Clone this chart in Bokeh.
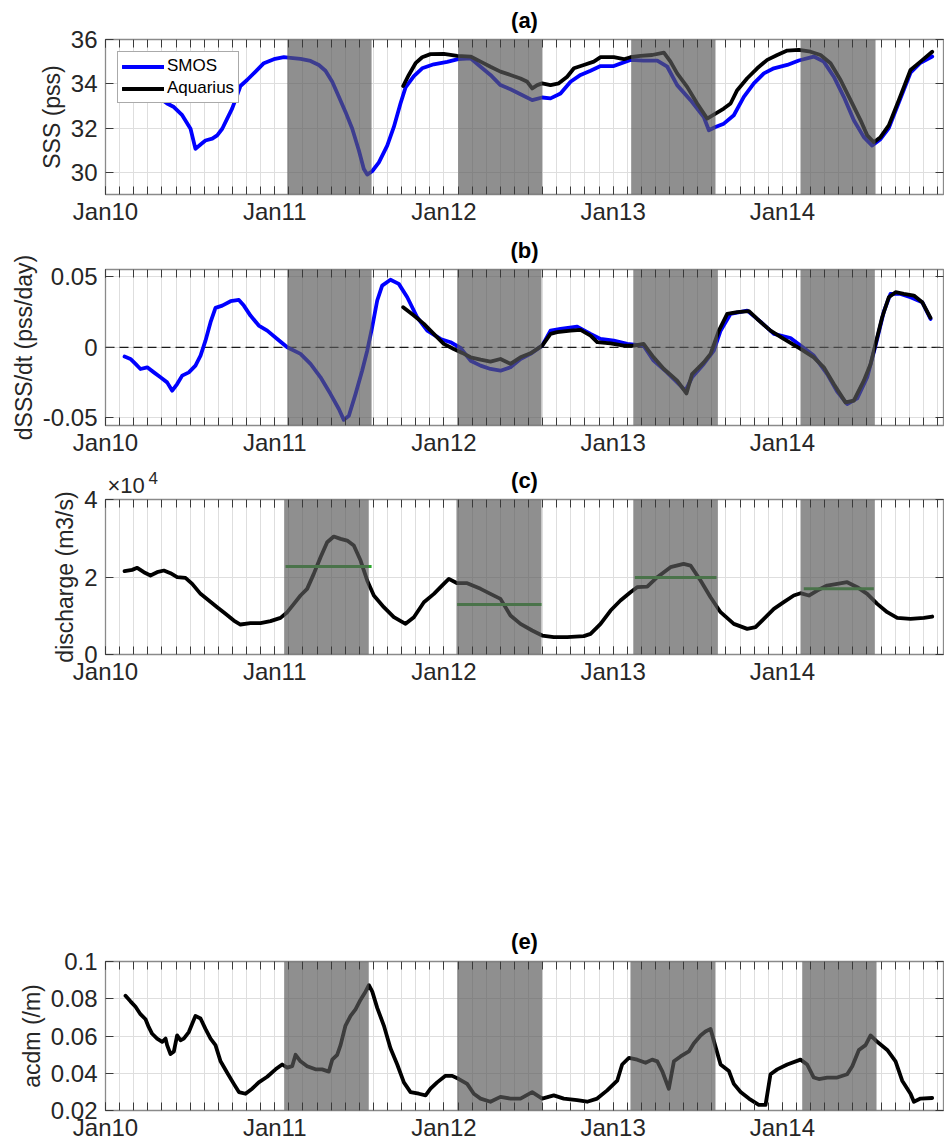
from bokeh.plotting import figure
from bokeh.models import (Range1d, FixedTicker, LinearAxis, Label, Legend, LegendItem, Span,
                          CustomLabelingPolicy)
from bokeh.layouts import column
from bokeh.embed import file_html
from bokeh.resources import INLINE

# ---------------- data (x = months since 1 Jan 2010) ----------------
tick_labels = ["Jan10", "Jan11", "Jan12", "Jan13", "Jan14"]
jan_ticks = [0, 12, 24, 36, 48]
month_ticks = list(range(0, 60))
x_end = 59.43

# shaded periods per panel (months)
shade_a_start = [12.89, 25.01, 37.28, 49.29]
shade_a_end = [18.87, 30.97, 43.26, 54.61]
shade_b_start = [12.89, 24.94, 37.43, 49.29]
shade_b_end = [18.87, 30.92, 43.43, 54.56]
shade_c_start = [12.67, 24.89, 37.43, 49.29]
shade_c_end = [18.67, 30.92, 43.43, 54.56]
shade_e_start = [12.67, 24.94, 37.23, 49.41]
shade_e_end = [18.67, 30.97, 43.26, 54.68]

# (a) SSS
smos_a_m = [1.35, 2.0, 2.7, 3.43, 3.90, 4.37, 4.85, 5.44, 6.03, 6.38,
            6.74, 7.09, 7.57, 7.92, 8.28, 8.63, 8.98, 9.34, 9.57, 10.04,
            10.64, 11.23, 11.94, 12.65, 13.12, 13.83, 14.54, 15.13, 15.6, 16.08,
            16.55, 17.02, 17.5, 17.97, 18.32, 18.56, 18.91, 19.39, 19.98, 20.45,
            20.92, 21.28, 21.87, 22.46, 23.28, 24.23, 25.01, 25.89, 26.6, 27.3,
            28.01, 28.72, 29.43, 30.26, 30.97, 31.56, 32.27, 32.98, 33.69, 34.4,
            35.11, 36.05, 37.23, 38.16, 39.13, 39.84, 40.54, 41.49, 42.43, 42.79,
            43.26, 43.85, 44.56, 45.27, 45.98, 46.69, 47.4, 48.35, 49.17, 50.23,
            50.94, 51.65, 52.36, 53.07, 53.78, 54.37, 54.96, 55.55, 56.26, 57.09,
            57.8, 58.63]
smos_a_v = [34.6, 34.4, 34.1, 33.79, 33.34, 33.11, 32.95, 32.58, 31.97, 31.06,
            31.26, 31.44, 31.52, 31.67, 31.97, 32.43, 32.88, 33.49, 33.9, 34.17,
            34.55, 34.93, 35.11, 35.2, 35.17, 35.12, 35.03, 34.85, 34.59, 34.09,
            33.41, 32.73, 31.97, 30.99, 30.15, 29.9, 30.05, 30.45, 31.21, 32.05,
            33.11, 33.84, 34.35, 34.7, 34.88, 34.99, 35.11, 35.15, 34.77, 34.4,
            33.94, 33.75, 33.53, 33.26, 33.38, 33.34, 33.56, 34.09, 34.4, 34.59,
            34.8, 34.8, 35.08, 35.05, 35.05, 34.77, 33.94, 33.26, 32.5, 31.9,
            32.05, 32.2, 32.58, 33.41, 34.02, 34.47, 34.7, 34.85, 35.05, 35.23,
            35.0, 34.32, 33.41, 32.35, 31.59, 31.21, 31.5, 32.0, 33.15, 34.5,
            34.95, 35.23]
aq_a_m = [21.11, 21.51, 21.99, 22.46, 23.05, 23.99, 24.94,
          25.89, 26.6, 27.3, 28.01, 28.72, 29.43, 29.91, 30.26, 30.62, 30.97,
          31.56, 32.15, 32.74, 33.22, 33.92, 34.63, 35.11, 36.05, 36.76, 37.23,
          37.94, 38.77, 39.6, 40.07, 40.54, 41.25, 41.96, 42.67, 43.26,
          43.85, 44.33, 44.8, 45.51, 46.22, 46.93, 47.64, 48.35, 49.17,
          50.0, 50.71, 51.42, 52.13, 52.84, 53.55, 54.02, 54.49,
          54.96, 55.55, 56.26, 57.09, 57.8, 58.63]
aq_a_v = [33.9, 34.4, 34.93, 35.2, 35.34, 35.35, 35.26,
          35.23, 35.0, 34.77, 34.55, 34.4, 34.24, 34.09, 33.79, 33.94, 34.02,
          33.94, 34.02, 34.32, 34.7, 34.85, 35.0, 35.2, 35.2, 35.11, 35.2,
          35.26, 35.3, 35.41, 35.0, 34.47, 33.86, 33.11, 32.43, 32.65,
          32.88, 33.11, 33.71, 34.25, 34.7, 35.08, 35.3, 35.5, 35.53,
          35.45, 35.3, 34.93, 34.17, 33.26, 32.35, 31.67, 31.36,
          31.59, 32.12, 33.26, 34.62, 35.0, 35.45]

# (b) dSSS/dt
smos_b_m = [1.35, 1.77, 2.13, 2.48, 2.96, 3.43, 3.9, 4.37, 4.73, 5.08,
            5.44, 5.91, 6.38, 6.74, 7.09, 7.45, 7.8, 8.28, 8.87, 9.46,
            9.81, 10.28, 10.87, 11.47, 12.18, 12.89, 13.83, 14.54, 15.25, 15.96,
            16.55, 16.9, 17.26, 17.73, 18.2, 18.56, 18.91, 19.27, 19.62, 20.21,
            20.8, 21.4, 22.1, 22.82, 23.76, 24.47, 25.18, 25.89, 26.6, 27.3,
            28.01, 28.72, 29.43, 30.14, 30.97, 31.56, 32.27, 33.45, 34.4, 35.11,
            36.05, 37.0, 38.16, 38.87, 39.82, 40.54, 41.13, 41.6, 42.43, 43.14,
            43.62, 44.33, 45.51, 46.45, 47.4, 48.58, 49.29, 50.23, 51.18, 51.89,
            52.6, 53.31, 54.02, 54.61, 55.2, 55.67, 56.38, 57.09, 57.92, 58.51]
smos_b_v = [-0.0066, -0.0083, -0.0118, -0.0154, -0.0142, -0.0178, -0.0213, -0.0249, -0.0308, -0.0261,
            -0.0201, -0.0178, -0.013, -0.0059, 0.0047, 0.0178, 0.028, 0.0296, 0.0327, 0.0336,
            0.0296, 0.0225, 0.0154, 0.0118, 0.0059, 0.0, -0.0047, -0.0118, -0.0213, -0.0332,
            -0.0438, -0.0515, -0.0486, -0.0332, -0.0166, -0.0024, 0.0142, 0.0332, 0.0438, 0.0479,
            0.045, 0.0355, 0.0213, 0.0118, 0.0059, 0.0036, -0.0005, -0.0095, -0.013, -0.0154,
            -0.0166, -0.0142, -0.0083, -0.0047, 0.0012, 0.0118, 0.013, 0.0147, 0.0095, 0.0059,
            0.0047, 0.0024, 0.0012, -0.0095, -0.0178, -0.0249, -0.0308, -0.0213, -0.0118, -0.0024,
            0.0118, 0.0237, 0.026, 0.0182, 0.0095, 0.0066, 0.0012, -0.0059, -0.019, -0.0315,
            -0.0403, -0.0363, -0.0213, 0.0012, 0.0254, 0.0379, 0.0379, 0.0355, 0.032, 0.0201]
aq_b_m = [21.11, 21.87, 22.58, 23.28, 23.99, 24.7, 25.3, 25.89, 26.6, 27.3,
          28.01, 28.72, 29.43, 30.14, 30.97, 31.56, 32.03, 32.98, 33.69, 34.4,
          34.87, 35.82, 36.76, 37.47, 38.16, 38.87, 39.6, 40.54, 41.2, 41.6,
          42.43, 42.91, 43.5, 44.09, 44.8, 45.63, 46.22, 47.16, 48.1, 49.29,
          50.23, 50.94, 51.65, 52.48, 53.07, 53.78, 54.26, 54.61, 55.08, 55.55,
          56.03, 56.62, 57.33, 57.92, 58.51]
aq_b_v = [0.0284, 0.0225, 0.0166, 0.0095, 0.0024, -0.0012, -0.004, -0.0071, -0.0088, -0.0102,
          -0.0083, -0.0118, -0.0071, -0.0043, 0.0012, 0.0095, 0.0107, 0.0118, 0.0123, 0.0083,
          0.0036, 0.0028, 0.0012, 0.0012, 0.0024, -0.0071, -0.0154, -0.0237, -0.0327, -0.019,
          -0.0107, -0.0047, 0.0118, 0.0237, 0.0249, 0.0256, 0.0201, 0.0118, 0.0059, -0.0012,
          -0.0071, -0.0142, -0.0261, -0.0391, -0.0379, -0.0237, -0.0118, 0.0024, 0.0213, 0.0355,
          0.0391, 0.0379, 0.0367, 0.032, 0.0209]

# (c) discharge
dis_m = [1.35, 1.89, 2.25, 2.72, 3.19, 3.66, 4.14, 4.61, 5.08, 5.67,
         6.15, 6.74, 7.33, 7.92, 8.51, 9.1, 9.57, 10.28, 10.99, 11.7,
         12.41, 12.89, 13.36, 13.83, 14.3, 14.77, 15.25, 15.72, 16.19, 16.67,
         17.14, 17.61, 18.09, 18.56, 19.03, 19.74, 20.45, 21.28, 21.87, 22.58,
         23.29, 23.99, 24.35, 24.94, 25.65, 26.6, 27.3, 28.01, 28.72, 29.43,
         30.26, 30.97, 31.79, 32.74, 33.92, 34.4, 35.11, 35.82, 36.52, 37.23,
         37.7, 38.42, 39.13, 40.07, 41.0, 41.49, 42.2, 42.91, 43.62, 44.56,
         45.51, 46.1, 46.69, 47.4, 48.1, 48.81, 49.29, 49.88, 50.47, 51.18,
         51.89, 52.6, 53.31, 54.02, 54.73, 55.44, 56.15, 57.09, 58.04, 58.63]
dis_v = [21500, 21840, 22360, 21240, 20380, 21240, 21670, 20980, 19950, 19780,
         18230, 15650, 13930, 12210, 10490, 8770, 7740, 8080, 8080, 8600,
         9460, 10920, 13070, 15220, 16940, 20810, 25110, 28980, 30440, 29840,
         29410, 28120, 24250, 19090, 15220, 12210, 9630, 7910, 9630, 13500,
         15650, 18230, 19520, 18400, 18400, 16940, 15650, 14360, 10060, 7910,
         6190, 4900, 4470, 4470, 4730, 5330, 7910, 11350, 13930, 16080,
         17370, 17540, 19950, 22530, 23390, 22960, 19090, 14790, 10920, 7910,
         6620, 7050, 9200, 11780, 13500, 15220, 15820, 15220, 16510, 17800,
         18230, 18660, 17370, 15650, 13070, 10920, 9460, 9200, 9460, 9800]
mean_start = [12.77, 24.94, 37.54, 49.52]
mean_end = [18.87, 30.92, 43.33, 54.49]
mean_val = [22700, 12900, 19900, 17000]

# (e) acdm
acdm_m = [1.42, 1.77, 2.13, 2.48, 2.84, 3.07, 3.31, 3.66, 4.02, 4.26,
          4.37, 4.61, 4.85, 5.08, 5.32, 5.55, 5.91, 6.38, 6.74, 7.09,
          7.45, 7.8, 8.16, 8.63, 9.1, 9.46, 9.93, 10.4, 10.87, 11.47,
          12.06, 12.53, 12.89, 13.24, 13.48, 13.83, 14.3, 14.89, 15.36, 15.84,
          16.08, 16.43, 16.67, 17.02, 17.38, 17.73, 18.09, 18.44, 18.68, 18.92,
          19.27, 19.74, 20.21, 20.69, 21.16, 21.63, 22.22, 22.7, 23.05, 23.52,
          24.11, 24.59, 25.06, 25.65, 26.12, 26.6, 27.3, 28.01, 28.72, 29.43,
          30.26, 30.97, 31.79, 32.5, 33.45, 34.16, 34.87, 35.58, 36.29, 36.64,
          37.12, 37.71, 38.3, 38.77, 39.13, 39.48, 39.95, 40.31, 40.78, 41.37,
          41.72, 42.2, 42.55, 42.91, 43.26, 43.62, 44.21, 44.56, 45.04, 45.63,
          46.33, 46.81, 47.16, 47.64, 48.35, 49.29, 49.76, 50.23, 50.59, 51.18,
          51.89, 52.6, 52.96, 53.43, 53.9, 54.26, 54.73, 55.44, 56.03, 56.5,
          57.09, 57.33, 57.8, 58.63]
acdm_v = [0.0816, 0.0786, 0.0757, 0.0717, 0.069, 0.0647, 0.0612, 0.0586, 0.0569, 0.0586,
          0.0551, 0.0503, 0.0517, 0.0603, 0.0577, 0.0586, 0.0621, 0.0708, 0.0694, 0.0638,
          0.0586, 0.0551, 0.0464, 0.0403, 0.0343, 0.0299, 0.029, 0.0317, 0.0351, 0.0381,
          0.0421, 0.0447, 0.043, 0.0438, 0.0499, 0.0464, 0.0438, 0.0421, 0.0421, 0.0409,
          0.0473, 0.0499, 0.0551, 0.0656, 0.0708, 0.0743, 0.0795, 0.0838, 0.0873, 0.0838,
          0.0751, 0.0656, 0.0534, 0.0447, 0.0351, 0.0299, 0.029, 0.0281, 0.0317, 0.0351,
          0.0386, 0.0386, 0.0369, 0.0343, 0.029, 0.0264, 0.0247, 0.0273, 0.0264, 0.0264,
          0.0299, 0.0264, 0.0281, 0.0264, 0.0256, 0.0247, 0.0264, 0.0308, 0.036, 0.0447,
          0.0482, 0.0473, 0.0456, 0.0473, 0.0464, 0.0412, 0.0317, 0.0464, 0.049, 0.0517,
          0.056, 0.0603, 0.0624, 0.0638, 0.0543, 0.0447, 0.0412, 0.0343, 0.0299, 0.0264,
          0.023, 0.023, 0.0395, 0.0421, 0.0447, 0.0473, 0.0447, 0.0377, 0.0369, 0.0377,
          0.0377, 0.0395, 0.0438, 0.0525, 0.0551, 0.0603, 0.0569, 0.0525, 0.0464, 0.036,
          0.029, 0.0247, 0.0264, 0.0267]

# ---------------- style ----------------
FONT = "Liberation Sans"
TXT = "#262626"
BOX = "#8a8a8a"
TICKC = "#3a3a3a"
GRID = "#dedede"
SHADE = "#5a5a5a"
SHADE_ALPHA = 0.68
LW = 3.8
FS_TICK = "24px"
FS_LAB = "23px"
W = 944
LEFT = 105

NO_LABELS = "for (const i of indices) { indices.unset(i) }\nreturn indices"


def style_axis(ax, labels, standoff):
    ax.axis_line_color = None
    ax.major_tick_in = 8
    ax.major_tick_out = 0
    ax.minor_tick_in = 8
    ax.minor_tick_out = 0
    ax.major_tick_line_color = TICKC
    ax.minor_tick_line_color = TICKC
    ax.major_tick_line_width = 1
    ax.minor_tick_line_width = 1
    ax.major_label_text_font = FONT
    ax.major_label_text_color = TXT
    if labels:
        ax.major_label_text_font_size = FS_TICK
        ax.major_label_standoff = standoff
    else:
        ax.major_label_text_font_size = "0px"
        ax.major_label_standoff = 0
        ax.major_label_policy = CustomLabelingPolicy(code=NO_LABELS)
    ax.axis_label_text_font = FONT
    ax.axis_label_text_font_size = FS_LAB
    ax.axis_label_text_font_style = "normal"
    ax.axis_label_text_color = TXT
    ax.axis_label_standoff = 3


def header(height, title, y_off):
    # text strip that sits underneath the top margin of the following panel
    h = figure(width=W, height=height, x_range=Range1d(0, x_end), y_range=Range1d(0, 1),
               min_border_left=LEFT, min_border_right=1, min_border_top=0, min_border_bottom=0,
               output_backend="svg", toolbar_location=None, x_axis_type=None, y_axis_type=None,
               background_fill_color="white", border_fill_color="white")
    h.outline_line_color = None
    h.add_layout(Label(x=x_end / 2, y=0, text=title, text_font=FONT, text_font_style="bold",
                       text_font_size="22px", text_color="#000000", text_align="center",
                       text_baseline="bottom", y_offset=y_off))
    return h


def make_fig(height, top, bottom, overlap, ylo, yhi, yticks, ylabel, ylabel_over):
    p = figure(width=W, height=height, x_range=Range1d(0, x_end), y_range=Range1d(ylo, yhi),
               min_border_left=LEFT, min_border_right=1, min_border_top=top, min_border_bottom=bottom,
               output_backend="svg", toolbar_location=None,
               background_fill_color="white", border_fill_alpha=0.0,
               margin=(-overlap, 0, 0, 0))
    p.outline_line_color = BOX
    p.outline_line_width = 1.3
    xt = FixedTicker(ticks=jan_ticks, minor_ticks=month_ticks)
    yt = FixedTicker(ticks=yticks)
    p.xaxis.ticker = xt
    p.yaxis.ticker = yt
    p.xaxis.major_label_overrides = {t: s for t, s in zip(jan_ticks, tick_labels)}
    if ylabel_over is not None:
        p.yaxis.major_label_overrides = ylabel_over
    p.yaxis.axis_label = ylabel
    style_axis(p.xaxis[0], True, 3)
    style_axis(p.yaxis[0], True, 8)
    top_ax = LinearAxis(ticker=xt)
    right_ax = LinearAxis(ticker=yt)
    style_axis(top_ax, False, 0)
    style_axis(right_ax, False, 0)
    p.add_layout(top_ax, "above")
    p.add_layout(right_ax, "right")
    p.xgrid.ticker = xt
    p.ygrid.ticker = yt
    p.xgrid.grid_line_color = GRID
    p.xgrid.minor_grid_line_color = GRID
    p.ygrid.grid_line_color = GRID
    p.xgrid.grid_line_width = 1
    p.ygrid.grid_line_width = 1
    return p


def shade(p, starts, ends, ylo, yhi):
    p.quad(left=starts, right=ends, bottom=ylo, top=yhi, fill_color=SHADE,
           fill_alpha=SHADE_ALPHA, line_color=None)


# (a)
ha = header(37, "(a)", 5)
pa = make_fig(232, 39, 38, 37, 29, 36, [30, 32, 34, 36], "SSS (pss)", None)
r_s = pa.line(smos_a_m, smos_a_v, line_color="#0000ff", line_width=LW, line_join="round", line_cap="round")
r_q = pa.line(aq_a_m, aq_a_v, line_color="#000000", line_width=LW, line_join="round", line_cap="round")
shade(pa, shade_a_start, shade_a_end, 29, 36)
leg = Legend(items=[LegendItem(label="SMOS", renderers=[r_s]), LegendItem(label="Aquarius", renderers=[r_q])],
             location="top_left", margin=12, padding=4, spacing=2, glyph_width=42, glyph_height=15,
             label_height=15, label_standoff=3, label_text_font=FONT, label_text_font_size="17px",
             label_text_color="#000000", border_line_color="#555555", border_line_width=1,
             background_fill_color="white", background_fill_alpha=1.0)
pa.add_layout(leg)

# (b)
hb = header(35, "(b)", 5)
pb = make_fig(230, 37, 37, 35, -0.0555, 0.0552, [-0.05, 0, 0.05], "dSSS/dt (pss/day)",
              {-0.05: "-0.05", 0: "0", 0.05: "0.05"})
pb.add_layout(Span(location=0, dimension="width", line_color="#1a1a1a", line_width=1.3,
                   line_dash="9 5", level="underlay"))
pb.line(smos_b_m, smos_b_v, line_color="#0000ff", line_width=LW, line_join="round", line_cap="round")
pb.line(aq_b_m, aq_b_v, line_color="#000000", line_width=LW, line_join="round", line_cap="round")
shade(pb, shade_b_start, shade_b_end, -0.0555, 0.0552)

# (c)
hc = header(35, "(c)", 5)
hc.add_layout(Label(x=0, y=0, text="\u00d710", text_font=FONT, text_font_size="22px",
                    text_color=TXT, text_align="left", text_baseline="bottom", x_offset=2, y_offset=0))
hc.add_layout(Label(x=0, y=0, text="4", text_font=FONT, text_font_size="17px",
                    text_color=TXT, text_align="left", text_baseline="bottom", x_offset=43, y_offset=14))
pc = make_fig(238, 37, 46, 35, 0, 40000, [0, 20000, 40000], "discharge (m3/s)",
              {0: "0", 20000: "2", 40000: "4"})
pc.line(dis_m, dis_v, line_color="#000000", line_width=LW, line_join="round", line_cap="round")
pc.segment(x0=mean_start, x1=mean_end, y0=mean_val, y1=mean_val, line_color="#2aa82a", line_width=3)
shade(pc, shade_c_start, shade_c_end, 0, 40000)

# (e)
he = header(259, "(e)", 6)
pe = make_fig(443, 261, 29, 259, 0.02, 0.1, [0.02, 0.04, 0.06, 0.08, 0.1], "acdm (/m)",
              {0.02: "0.02", 0.04: "0.04", 0.06: "0.06", 0.08: "0.08", 0.1: "0.1"})
pe.line(acdm_m, acdm_v, line_color="#000000", line_width=LW, line_join="round", line_cap="round")
shade(pe, shade_e_start, shade_e_end, 0.02, 0.1)

layout = column(ha, pa, hb, pb, hc, pc, he, pe)
open("out.html", "w").write(file_html(layout, INLINE))
